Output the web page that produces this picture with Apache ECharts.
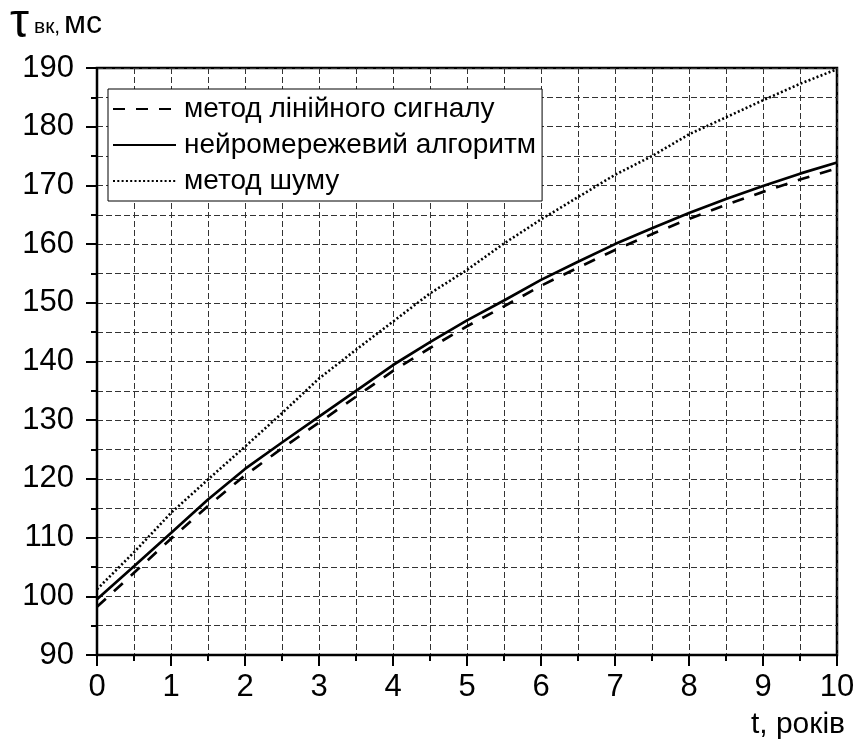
<!DOCTYPE html>
<html>
<head>
<meta charset="utf-8">
<script src="https://cdn.jsdelivr.net/npm/echarts@6/dist/echarts.min.js"></script>
<style>html,body{margin:0;padding:0;background:#fff}#c{width:858px;height:747px}</style>
</head>
<body>
<div id="c"></div>
<script>
const years = [0,0.5,1,1.5,2,2.5,3,3.5,4,4.5,5,5.5,6,6.5,7,7.5,8,8.5,9,9.5,10];
const linearSignal = [98.2,104.0,109.8,115.4,120.6,125.2,129.6,134.0,138.4,142.3,146.0,149.4,152.9,156.0,159.0,161.7,164.3,166.7,168.9,171.0,172.9];
const neuralNet = [99.5,105.1,110.8,116.5,121.7,126.2,130.6,135.0,139.4,143.3,147.0,150.4,153.9,157.0,160.0,162.7,165.3,167.7,169.9,172.0,173.9];
const noiseMethod = [101.2,107.5,114.2,119.9,125.5,131.2,137.1,142.0,146.8,151.6,155.6,160.1,164.2,168.0,171.8,175.0,178.7,181.6,184.5,187.3,189.8];
const seriesNames = ['метод лінійного сигналу','нейромережевий алгоритм','метод шуму'];
const xAxisTitle = 't, років';

const pair = v => years.map((t,i)=>[t,v[i]]);
const FONT = 'Liberation Sans, Arial, sans-serif';
const gridDash = {color:'#333', width:1, type:[6,3]};

const chart = echarts.init(document.getElementById('c'), null, {renderer:'canvas'});
chart.setOption({
  animation:false,
  backgroundColor:'#fff',
  grid:{left:97,right:21,top:68,bottom:92,show:true,borderColor:'#000',borderWidth:2.5,backgroundColor:'transparent'},
  xAxis:{type:'value',min:0,max:10,interval:1,
    axisLine:{show:true,onZero:false,lineStyle:{color:'#000',width:2}},
    axisTick:{show:true,inside:false,length:11,lineStyle:{color:'#000',width:2}},
    minorTick:{show:true,splitNumber:2,length:6,lineStyle:{color:'#000',width:2}},
    splitLine:{show:true,lineStyle:gridDash},
    minorSplitLine:{show:true,lineStyle:gridDash},
    axisLabel:{color:'#000',fontSize:31,fontFamily:FONT,margin:17}
  },
  yAxis:{type:'value',min:90,max:190,interval:10,
    axisLine:{show:true,onZero:false,lineStyle:{color:'#000',width:2}},
    axisTick:{show:true,inside:false,length:11,lineStyle:{color:'#000',width:2}},
    minorTick:{show:true,splitNumber:2,length:6,lineStyle:{color:'#000',width:2}},
    splitLine:{show:true,lineStyle:gridDash},
    minorSplitLine:{show:true,lineStyle:gridDash},
    axisLabel:{color:'#000',fontSize:31,fontFamily:FONT,margin:23}
  },
  legend:{orient:'vertical',left:108,top:89,padding:[6,6,6,4],itemGap:8,itemWidth:63,itemHeight:14,
    backgroundColor:'#fff',borderColor:'#000',borderWidth:1,
    itemStyle:{opacity:0},
    textStyle:{color:'#000',fontSize:28,fontFamily:FONT,lineHeight:26,padding:[0,0,0,3]},
    data:seriesNames
  },
  series:[
    {name:seriesNames[0],type:'line',data:pair(linearSignal),symbol:'none',smooth:false,
      lineStyle:{color:'#000',width:2.7,type:[12,11]},itemStyle:{color:'#000'}},
    {name:seriesNames[1],type:'line',data:pair(neuralNet),symbol:'none',smooth:false,
      lineStyle:{color:'#000',width:2.7,type:'solid'},itemStyle:{color:'#000'}},
    {name:seriesNames[2],type:'line',data:pair(noiseMethod),symbol:'none',smooth:false,
      lineStyle:{color:'#000',width:2.6,type:[2,2.3]},itemStyle:{color:'#000'}}
  ],
  graphic:[
    {type:'text',left:10,top:0,style:{text:'τ',fontSize:48,fontFamily:FONT,fill:'#000'}},
    {type:'text',left:34,top:17,style:{text:'вк,',fontSize:21,fontFamily:FONT,fill:'#000'}},
    {type:'text',left:64,top:8,style:{text:'мс',fontSize:32,fontFamily:FONT,fill:'#000'}},
    {type:'text',right:13,top:710,style:{text:xAxisTitle,fontSize:30,fontFamily:FONT,fill:'#000'}}
  ]
});
</script>
</body>
</html>
